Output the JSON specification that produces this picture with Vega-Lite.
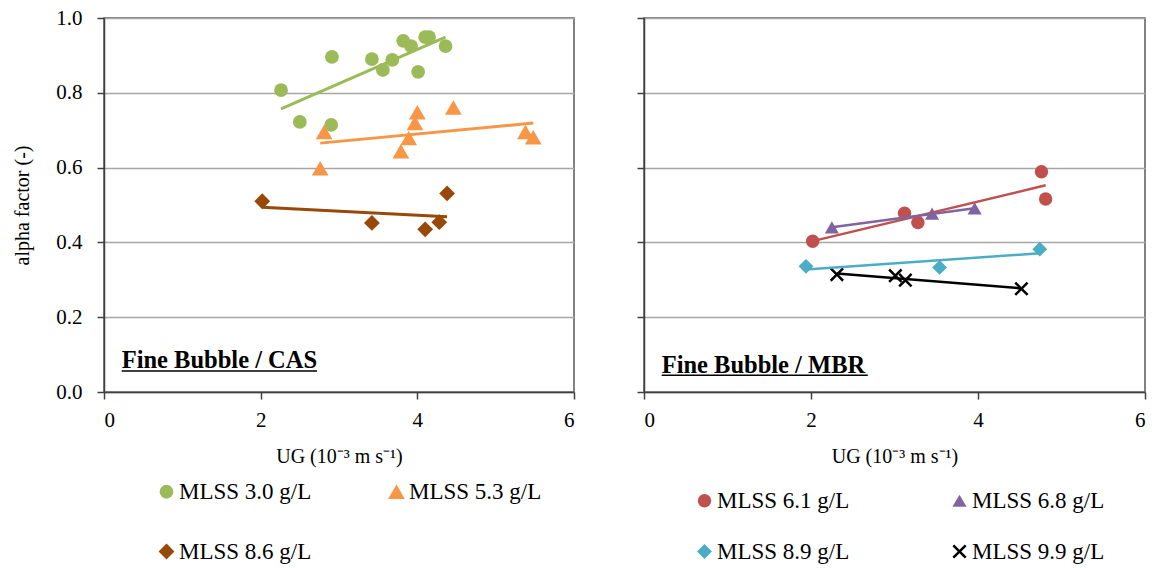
{
  "$schema": "https://vega.github.io/schema/vega-lite/v6.json",
  "padding": {"left": 12, "top": 6, "right": 5, "bottom": 0},
  "background": "white",
  "config": {
    "font": "Liberation Serif",
    "view": {"stroke": "#595959", "strokeWidth": 1.5},
    "axis": {
      "labelFont": "Liberation Serif", "labelFontSize": 21, "labelColor": "#000000",
      "titleFont": "Liberation Serif", "titleFontSize": 20, "titleFontWeight": "normal", "titleColor": "#000000",
      "domainColor": "#404040", "domainWidth": 1.5,
      "tickColor": "#404040", "tickSize": 7, "tickWidth": 1.5,
      "gridColor": "#a6a6a6", "gridWidth": 1.5
    },
    "legend": {
      "labelFont": "Liberation Serif", "labelFontSize": 23, "labelColor": "#000000",
      "symbolSize": 150, "labelOffset": 1, "padding": 0, "symbolStrokeWidth": 0
    }
  },
  "datasets": {
    "pts": [
      {"panel": "CAS", "series": "MLSS 3.0 g/L", "u": 2.26, "a": 0.807},
      {"panel": "CAS", "series": "MLSS 3.0 g/L", "u": 2.91, "a": 0.896},
      {"panel": "CAS", "series": "MLSS 3.0 g/L", "u": 3.42, "a": 0.890},
      {"panel": "CAS", "series": "MLSS 3.0 g/L", "u": 3.68, "a": 0.888},
      {"panel": "CAS", "series": "MLSS 3.0 g/L", "u": 3.56, "a": 0.861},
      {"panel": "CAS", "series": "MLSS 3.0 g/L", "u": 3.82, "a": 0.939},
      {"panel": "CAS", "series": "MLSS 3.0 g/L", "u": 3.92, "a": 0.925},
      {"panel": "CAS", "series": "MLSS 3.0 g/L", "u": 4.10, "a": 0.949},
      {"panel": "CAS", "series": "MLSS 3.0 g/L", "u": 4.15, "a": 0.949},
      {"panel": "CAS", "series": "MLSS 3.0 g/L", "u": 4.36, "a": 0.925},
      {"panel": "CAS", "series": "MLSS 3.0 g/L", "u": 4.01, "a": 0.856},
      {"panel": "CAS", "series": "MLSS 3.0 g/L", "u": 2.50, "a": 0.722},
      {"panel": "CAS", "series": "MLSS 3.0 g/L", "u": 2.90, "a": 0.714},
      {"panel": "CAS", "series": "MLSS 5.3 g/L", "u": 2.81, "a": 0.695},
      {"panel": "CAS", "series": "MLSS 5.3 g/L", "u": 2.76, "a": 0.598},
      {"panel": "CAS", "series": "MLSS 5.3 g/L", "u": 4.00, "a": 0.748},
      {"panel": "CAS", "series": "MLSS 5.3 g/L", "u": 3.97, "a": 0.719},
      {"panel": "CAS", "series": "MLSS 5.3 g/L", "u": 3.89, "a": 0.679},
      {"panel": "CAS", "series": "MLSS 5.3 g/L", "u": 3.79, "a": 0.644},
      {"panel": "CAS", "series": "MLSS 5.3 g/L", "u": 4.46, "a": 0.761},
      {"panel": "CAS", "series": "MLSS 5.3 g/L", "u": 5.38, "a": 0.695},
      {"panel": "CAS", "series": "MLSS 5.3 g/L", "u": 5.48, "a": 0.681},
      {"panel": "CAS", "series": "MLSS 8.6 g/L", "u": 2.02, "a": 0.510},
      {"panel": "CAS", "series": "MLSS 8.6 g/L", "u": 3.42, "a": 0.452},
      {"panel": "CAS", "series": "MLSS 8.6 g/L", "u": 4.10, "a": 0.435},
      {"panel": "CAS", "series": "MLSS 8.6 g/L", "u": 4.28, "a": 0.454},
      {"panel": "CAS", "series": "MLSS 8.6 g/L", "u": 4.38, "a": 0.531},
      {"panel": "MBR", "series": "MLSS 6.1 g/L", "u": 2.02, "a": 0.403},
      {"panel": "MBR", "series": "MLSS 6.1 g/L", "u": 3.12, "a": 0.478},
      {"panel": "MBR", "series": "MLSS 6.1 g/L", "u": 3.28, "a": 0.453},
      {"panel": "MBR", "series": "MLSS 6.1 g/L", "u": 4.76, "a": 0.589},
      {"panel": "MBR", "series": "MLSS 6.1 g/L", "u": 4.81, "a": 0.516},
      {"panel": "MBR", "series": "MLSS 6.8 g/L", "u": 2.25, "a": 0.440},
      {"panel": "MBR", "series": "MLSS 6.8 g/L", "u": 3.45, "a": 0.477},
      {"panel": "MBR", "series": "MLSS 6.8 g/L", "u": 3.96, "a": 0.491},
      {"panel": "MBR", "series": "MLSS 8.9 g/L", "u": 1.94, "a": 0.336},
      {"panel": "MBR", "series": "MLSS 8.9 g/L", "u": 3.54, "a": 0.333},
      {"panel": "MBR", "series": "MLSS 8.9 g/L", "u": 4.74, "a": 0.382},
      {"panel": "MBR", "series": "MLSS 9.9 g/L", "u": 2.31, "a": 0.314},
      {"panel": "MBR", "series": "MLSS 9.9 g/L", "u": 3.01, "a": 0.311},
      {"panel": "MBR", "series": "MLSS 9.9 g/L", "u": 3.13, "a": 0.299},
      {"panel": "MBR", "series": "MLSS 9.9 g/L", "u": 4.52, "a": 0.276}
    ]
  },
  "spacing": 59,
  "resolve": {"scale": {"color": "independent", "shape": "independent", "size": "independent", "stroke": "independent"}},
  "hconcat": [
    {
      "width": 470,
      "height": 374,
      "layer": [
        {
          "data": {"name": "pts"},
          "transform": [{"filter": "datum.panel == 'CAS'"}],
          "mark": {"type": "point", "filled": true, "opacity": 1},
          "encoding": {
            "x": {"field": "u", "type": "quantitative", "scale": {"domain": [0, 6], "nice": false},
                  "axis": {"values": [0, 2, 4, 6], "format": "d", "grid": false, "labelPadding": 10, "titlePadding": 16, "title": "UG (10⁻³ m s⁻¹)"}},
            "y": {"field": "a", "type": "quantitative", "scale": {"domain": [0, 1], "nice": false},
                  "axis": {"values": [0, 0.2, 0.4, 0.6, 0.8, 1.0], "format": ".1f", "grid": true, "labelPadding": 15, "titlePadding": 23, "title": "alpha factor (-)"}},
            "color": {"field": "series", "type": "nominal",
                      "scale": {"domain": ["MLSS 3.0 g/L", "MLSS 5.3 g/L", "MLSS 8.6 g/L"], "range": ["#9BBB59", "#F79646", "#984807"]},
                      "legend": {"title": null, "orient": "none", "legendX": 51, "legendY": 462, "columns": 2, "direction": "horizontal", "columnPadding": 73, "rowPadding": 36}},
            "shape": {"field": "series", "type": "nominal",
                      "scale": {"domain": ["MLSS 3.0 g/L", "MLSS 5.3 g/L", "MLSS 8.6 g/L"], "range": ["circle", "triangle-up", "diamond"]}},
            "size": {"field": "series", "type": "nominal",
                     "scale": {"type": "ordinal", "domain": ["MLSS 3.0 g/L", "MLSS 5.3 g/L", "MLSS 8.6 g/L"], "range": [190, 280, 250]}, "legend": null}
          }
        },
        {
          "data": {"name": "pts"},
          "transform": [{"filter": "datum.panel == 'CAS'"}, {"regression": "a", "on": "u", "groupby": ["series"]}],
          "mark": {"type": "line", "strokeWidth": 3},
          "encoding": {
            "x": {"field": "u", "type": "quantitative"},
            "y": {"field": "a", "type": "quantitative"},
            "stroke": {"field": "series", "type": "nominal",
                       "scale": {"domain": ["MLSS 3.0 g/L", "MLSS 5.3 g/L", "MLSS 8.6 g/L"], "range": ["#9BBB59", "#F79646", "#984807"]}, "legend": null}
          }
        },
        {
          "data": {"values": [{"u": 0.226, "a": 0.063, "label": "Fine Bubble / CAS"}]},
          "mark": {"type": "text", "align": "left", "baseline": "alphabetic", "fontWeight": "bold", "fontSize": 24.5, "font": "Liberation Serif", "color": "#000000"},
          "encoding": {
            "x": {"field": "u", "type": "quantitative"},
            "y": {"field": "a", "type": "quantitative"},
            "text": {"field": "label"}
          }
        },
        {
          "data": {"values": [{"u": 0.226, "u2": 2.72, "a": 0.056}]},
          "mark": {"type": "rule", "strokeWidth": 1.5, "color": "#000000"},
          "encoding": {
            "x": {"field": "u", "type": "quantitative"},
            "x2": {"field": "u2"},
            "y": {"field": "a", "type": "quantitative"}
          }
        }
      ]
    },
    {
      "width": 501,
      "height": 374,
      "layer": [
        {
          "data": {"name": "pts"},
          "transform": [{"filter": "datum.panel == 'MBR'"}],
          "mark": {"type": "point", "filled": true, "opacity": 1},
          "encoding": {
            "x": {"field": "u", "type": "quantitative", "scale": {"domain": [0, 6], "nice": false},
                  "axis": {"values": [0, 2, 4, 6], "format": "d", "grid": false, "labelPadding": 10, "titlePadding": 16, "title": "UG (10⁻³ m s⁻¹)"}},
            "y": {"field": "a", "type": "quantitative", "scale": {"domain": [0, 1], "nice": false},
                  "axis": {"values": [0, 0.2, 0.4, 0.6, 0.8, 1.0], "grid": true, "labels": false, "title": null}},
            "color": {"field": "series", "type": "nominal",
                      "scale": {"domain": ["MLSS 6.1 g/L", "MLSS 6.8 g/L", "MLSS 8.9 g/L", "MLSS 9.9 g/L"], "range": ["#C0504D", "#8064A2", "#4BACC6", "#000000"]},
                      "legend": {"title": null, "orient": "none", "legendX": 49, "legendY": 471, "columns": 2, "direction": "horizontal", "columnPadding": 98, "rowPadding": 27}},
            "shape": {"field": "series", "type": "nominal",
                      "scale": {"domain": ["MLSS 6.1 g/L", "MLSS 6.8 g/L", "MLSS 8.9 g/L", "MLSS 9.9 g/L"],
                                "range": ["circle", "triangle-up", "diamond", "M-1,-0.75L-0.75,-1L0,-0.25L0.75,-1L1,-0.75L0.25,0L1,0.75L0.75,1L0,0.25L-0.75,1L-1,0.75L-0.25,0Z"]}},
            "size": {"field": "series", "type": "nominal",
                     "scale": {"type": "ordinal", "domain": ["MLSS 6.1 g/L", "MLSS 6.8 g/L", "MLSS 8.9 g/L", "MLSS 9.9 g/L"], "range": [180, 200, 220, 200]}, "legend": null}
          }
        },
        {
          "data": {"name": "pts"},
          "transform": [{"filter": "datum.panel == 'MBR'"}, {"regression": "a", "on": "u", "groupby": ["series"]}],
          "mark": {"type": "line", "strokeWidth": 2.5},
          "encoding": {
            "x": {"field": "u", "type": "quantitative"},
            "y": {"field": "a", "type": "quantitative"},
            "stroke": {"field": "series", "type": "nominal",
                       "scale": {"domain": ["MLSS 6.1 g/L", "MLSS 6.8 g/L", "MLSS 8.9 g/L", "MLSS 9.9 g/L"], "range": ["#C0504D", "#8064A2", "#4BACC6", "#000000"]}, "legend": null}
          }
        },
        {
          "data": {"values": [{"u": 0.212, "a": 0.0515, "label": "Fine Bubble / MBR"}]},
          "mark": {"type": "text", "align": "left", "baseline": "alphabetic", "fontWeight": "bold", "fontSize": 24.5, "font": "Liberation Serif", "color": "#000000"},
          "encoding": {
            "x": {"field": "u", "type": "quantitative"},
            "y": {"field": "a", "type": "quantitative"},
            "text": {"field": "label"}
          }
        },
        {
          "data": {"values": [{"u": 0.212, "u2": 2.68, "a": 0.045}]},
          "mark": {"type": "rule", "strokeWidth": 1.5, "color": "#000000"},
          "encoding": {
            "x": {"field": "u", "type": "quantitative"},
            "x2": {"field": "u2"},
            "y": {"field": "a", "type": "quantitative"}
          }
        }
      ]
    }
  ]
}
